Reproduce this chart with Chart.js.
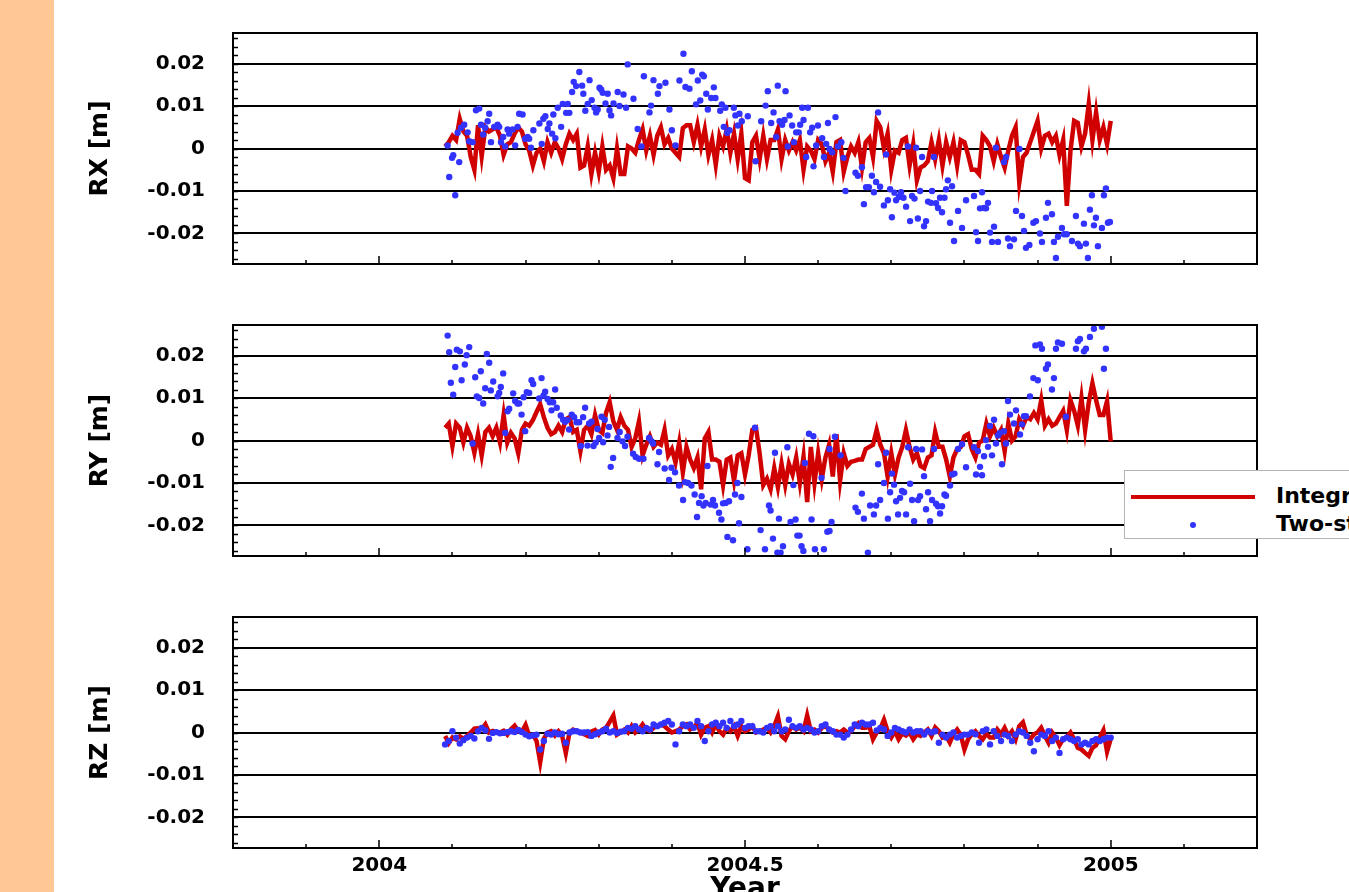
<!DOCTYPE html>
<html>
<head>
<meta charset="utf-8">
<title>RX / RY / RZ</title>
<script src="https://cdn.jsdelivr.net/npm/chart.js@4.4.1/dist/chart.umd.min.js"></script>
<style>
  html, body { margin: 0; padding: 0; background: #fff; }
  body { width: 1349px; height: 892px; overflow: hidden; position: relative; font-family: 'DejaVu Sans', sans-serif; }
  #strip { position: absolute; left: 0; top: 0; width: 54px; height: 892px; background: #fec896; }
  canvas { position: absolute; left: 53px; }
  #legend { position: absolute; left: 1124px; top: 470px; width: 300px; height: 67px; background: #fff; border: 1px solid #b4b4b4; z-index: 5; }
  #legend .line { position: absolute; left: 6px; top: 24px; width: 124px; height: 4px; background: #d00000; }
  #legend .dot { position: absolute; left: 65px; top: 51px; width: 6px; height: 6px; border-radius: 50%; background: #3333ff; }
  #legend .txt { position: absolute; left: 151px; font-weight: bold; font-size: 22px; line-height: 24px; white-space: nowrap; color: #000; }
</style>
</head>
<body>
<div id="strip"></div>
<canvas id="rxChart" width="1208" height="239" style="top:29px"></canvas>
<canvas id="ryChart" width="1208" height="239" style="top:321px"></canvas>
<canvas id="rzChart" width="1208" height="294" style="top:613px"></canvas>
<div id="legend">
  <div class="line"></div>
  <div class="txt" style="top:13px">Integrated approach</div>
  <div class="dot"></div>
  <div class="txt" style="top:41px">Two-step approach</div>
</div>
<script>
// axes
const yearTicks = [2004, 2004.5, 2005];
const metreTicks = [-0.02, -0.01, 0, 0.01, 0.02];

// integrated solution: one value every 0.005 yr from 2004.09 to 2005.00 (mm)
const integratedEpochs = [];
for (let k = 0; k <= 182; k++) integratedEpochs.push(2004.09 + k * 0.005);

const rxIntegrated = [
  0.5, 1.5, 3, 2, 7, 4, 3, -2, -5, 5.5,
  -1.8, 5, 4, 4.5, 5, 3, -1.5, 1, 1.5, 3.5,
  5, 4, 1, -0.5, -4, -1, 0, -3, 1.5, -1,
  1.5, 0, -2.5, 1, 3.5, 2, 3.5, -4.5, -4, 0.5,
  -6, -1, -5.5, 0.5, -5, -4, -7, 0, -6, -6,
  0.5, 0, -1, 2, 4.5, -0.5, 3, -1.5, 3, 5,
  1, 2.5, 0, -1, -2, 4.8, 5.5, 5.5, 1.5, 5.5,
  0.5, 4.5, -1.5, 2, -3.8, 3, 0.5, 4.5, -1, 3.5,
  -2.5, 3.5, -7, -7.5, 1.5, 3, -2.5, 3, -2.5, 2,
  2, 4.5, -2.5, 2, -0.5, 1.5, -0.5, 2, -5, 0.5,
  -0.5, -2.5, 2, 1, -3, -1, -5.5, 1.5, 2, -5.5,
  -2, 0.5, -1, 1.5, -4.5, 1.5, 2.5, -2, 6.5, 5,
  0, 3.5, -5, -0.5, -1, 2, 2.5, -4, 1, -7.5,
  -4.5, -4, -3, 1.5, -2.5, 2, -4, 1.5, -2, 1.5,
  -4, 2, 1.5, -1.5, -5, -5, -6, 3, 2, 0.5,
  -3, 1, -2, -4.5, -0.5, 3, 5, -8, -2, -1,
  1.5, 4, 6.5, 0, 3, 3.5, 1.5, 3, -1.5, 2,
  -13.5, -0.5, 6.5, 6, 0.5, 3.5, 10.5, 2, 8.5, 2,
  5, 1, 6.5
];

const ryIntegrated = [
  3, 4, -1.3, 4, 3, -0.5, 3, 1, -2.9, 1.5,
  -3.5, 2, 3, 1, 3, -0.5, 6, -0.5, 1.8, 0.5,
  -3, 2.5, 4, 3.5, 4.8, 6.7, 8.5, 5.5, 3, 1.5,
  2, 3.5, 2, 5, 5.5, 2, 2.5, -2.5, 2.5, 3.5,
  1.5, 6, 2.5, 1.8, 6.5, 9, 4.5, 2.5, 5.5, 3.5,
  2.5, -1.5, 0.5, 4.5, -3.5, -1, 1, -1.5, -0.5, -1,
  2.5, -3.5, -2, -5.2, -0.5, -7.5, -1.5, -4.5, -6.5, -4,
  -11.5, 0.5, 2, -4.5, -4.5, -5, -10.5, -4.5, -4, -9.5,
  -3.5, -3, -8, -3.5, 2.5, 3, -3, -10.5, -9, -11.5,
  -6.5, -11, -5.5, -10.5, -5.5, -8, -4, -10, -3.8, -14.5,
  -1.5, -10, -3, -9, -4, -1, -8.5, 1.5, -9.5, -3,
  -6, -5, -4.8, -4.5, -4.5, -2, -1.5, -1, 2.5, -1,
  -3, -8.5, -3, -8, -4, -1.5, 2.5, -1.5, -4.5, -3,
  -6, -6.5, -4, -3.5, 2, -1.5, -1.5, -4.5, -8.5, -4,
  -2, -1.5, 1, 1.5, -2, -4, -0.5, 0, 4, 1,
  3, 1, 2.5, -2.5, 4, 0, 1, 5, 3.5, 5.5,
  5, 6.5, 5, 9.5, 3.5, 5, 3.5, 4, 5.5, 7,
  2.5, 9.5, 7, 3.5, 10, 2.5, 9, 13.5, 9.5, 6,
  6, 9.3, -0.2
];

const rzIntegrated = [
  -0.8, -2.5, -1.2, -1.6, -0.9, -1.5, -0.8, 0, 0.9, 1,
  0.8, 1.9, 0, 0.4, 0.1, 0, 0.4, -0.5, 0.8, 1.6,
  0.3, 0.2, 1.8, -0.8, -0.5, -2, -7, -1.5, 0, 0.3,
  -0.7, 0.3, -0.8, -4.8, 0, 0.7, 0.3, 0, -0.4, -0.8,
  0.2, 0.6, -0.5, 0.7, 1.1, 2.5, 4, -0.5, 0, 0.7,
  0, 1.5, 0, 0.7, 1.9, 0.7, 0.3, 1.1, 1.5, 1.9,
  1.5, 0.7, 0, 0.3, 0.7, 1.5, 1.9, 0.7, 1.1, 2.3,
  -0.5, 1.1, 1.5, 0, 1.9, 0.3, -0.5, 1.1, 0.3, 1.5,
  -0.8, 1.5, 0.3, 0.7, 1.5, 0, 0.3, 0.7, 1.1, 0,
  1.5, 3.8, -0.8, -1.6, 0.3, 1.5, 0.7, 1.1, 0.3, 4,
  0.3, 0.7, 0, 1.1, 1.5, 0.7, 0, 0.3, 0, 0.7,
  0, 0.3, 1.5, 2.2, 1.1, 1.1, 1.5, -1.6, 0, 0.9,
  3, 0.3, -1.2, 0.3, -1.6, -0.2, -0.7, 0, -1.6, -0.4,
  -0.8, 0, 0.7, -0.8, 1.2, 0.3, -1.2, -0.8, -2.4, -0.4,
  0.7, -0.6, -4, -1.6, -0.4, 0.3, -0.8, -1.6, -0.3, -1.2,
  -1.2, 0.7, -0.4, 1.1, -0.8, 0.3, -1.6, 1.5, 2.4, -0.5,
  -1.6, -0.4, 0, 1.1, -0.8, -2.4, 0, -1.2, -3, -1.5,
  -1, 0, -1.6, -3.6, -4, -4.8, -5.5, -3.6, -3, -1.2,
  0.5, -4.5, -1.5
];

// two-step solution (day of year 2004, mm)
const rxTwoStepDay = [
  34.2, 35.0, 36.4, 37.0, 38.0, 39.2, 40.0, 40.9, 42.5, 44.2, 45.0, 46.7, 48.4, 50.0, 50.9, 52.0, 53.0, 54.2, 55.0, 55.9,
  57.5, 59.2, 60.0, 60.9, 62.0, 63.0, 64.2, 65.0, 66.7, 68.0, 69.2, 70.0, 71.7, 73.0, 74.2, 75.0, 75.9, 77.1, 80.1, 81.3,
  82.1, 83.1, 84.3, 85.1, 86.5, 87.1, 88.1, 89.3, 91.0, 91.8, 93.5, 94.3, 95.1, 96.5, 97.3, 98.5, 100.1, 101.5, 102.1, 103.1,
  104.3, 105.2, 106.3, 107.7, 108.5, 109.3, 110.2, 111.0, 111.8, 113.2, 114.3, 115.2, 116.0, 117.2, 119.3, 120.2, 122.2, 123.5, 124.3, 127.2,
  129.3, 131.2, 132.4, 135.2, 136.0, 137.2, 139.4, 140.2, 143.2, 145.2, 146.4, 148.2, 150.2, 152.2, 153.2, 155.2, 156.4, 158.5, 159.4, 160.6,
  161.6, 162.4, 163.6, 164.4, 166.1, 167.4, 168.2, 170.6, 171.4, 172.4, 173.2, 174.1, 175.2, 177.4, 178.2, 179.4, 180.2, 181.4, 184.4, 188.3,
  191.1, 193.3, 194.4, 196.1, 197.3, 198.6, 199.4, 200.3, 201.6, 202.8, 203.3, 204.4, 205.3, 206.6, 207.5, 208.6, 209.9, 210.6, 211.6, 212.3,
  213.6, 214.5, 215.6, 216.6, 217.3, 218.6, 219.5, 221.6, 222.5, 223.6, 224.5, 225.3, 226.6, 228.3, 229.5, 231.2, 232.3, 233.3, 238.3, 239.5,
  241.5, 242.5, 243.6, 245.0, 246.5, 247.5, 248.6, 249.6, 250.6, 252.5, 253.6, 254.5, 255.6, 256.5, 257.8, 258.6, 260.0, 261.1, 262.3, 263.6,
  264.6, 265.6, 266.6, 267.8, 268.6, 269.5, 270.6, 271.6, 272.6, 273.6, 274.6, 276.1, 276.6, 277.5, 278.6, 279.6, 280.6, 281.6, 282.8, 283.6,
  284.5, 285.6, 286.6, 287.6, 289.6, 291.6, 293.6, 297.6, 298.6, 299.6, 300.6, 301.6, 302.6, 303.6, 304.6, 305.6, 306.6, 307.6, 308.6, 309.6,
  312.6, 313.6, 314.6, 315.6, 317.6, 318.6, 320.3, 321.6, 322.6, 323.6, 325.3, 327.3, 328.6, 330.6, 331.6, 333.6, 334.6, 336.6, 337.6, 338.6,
  339.6, 341.6, 342.6, 344.0, 346.6, 348.6, 349.6, 350.6, 352.6, 353.6, 354.6, 355.6, 356.6, 357.6, 358.6, 359.6, 361.6, 362.6, 363.6, 364.6,
  365.6
];
const rxTwoStep = [
  0.7, -6.7, -2.2, -1.6, -11.0, 3.7, -3.2, 4.9, 5.6, 3.8, 1.7, 1.5, 9.0, 9.4, 5.6, 3.3, 4.9, 6.4, 8.2, 1.5,
  5.1, 5.6, 5.1, 1.5, 2.7, 0.5, 4.5, 3.5, 4.5, 0.7, 5.1, 8.2, 8.0, 2.3, 2.7, 2.3, 0.2, 4.3, 5.9, 1.1,
  7.0, 7.6, 4.6, 5.9, 3.5, 8.0, 2.4, 9.6, 5.1, 10.5, 8.4, 10.5, 8.4, 13.3, 15.7, 14.7, 18.0, 14.8, 12.9, 8.9,
  10.5, 16.1, 11.4, 9.6, 8.5, 9.2, 14.3, 13.9, 13.1, 10.6, 12.9, 9.0, 7.8, 10.6, 13.3, 10.0, 12.7, 9.6, 19.8, 11.7,
  4.6, 0.5, 17.0, 8.5, 10.1, 16.1, 12.9, 14.7, 15.5, 9.2, 4.3, 0.7, 16.0, 22.3, 14.5, 14.1, 18.2, 10.4, 16.0, 11.3,
  17.4, 17.0, 12.9, 9.2, 11.9, 14.4, 11.9, 8.9, 10.4, 5.1, 9.6, 3.7, 4.3, 9.6, 7.8, 5.4, 8.2, 6.4, 7.6, -3.0,
  6.4, 10.1, 13.5, 6.0, 8.5, 2.7, 14.8, 6.4, 5.6, 6.7, 13.5, 0.5, 7.8, 5.4, 1.5, 3.8, 3.8, 5.6, 9.6, 6.7,
  -2.0, 9.6, 3.8, 4.9, -4.2, 0.7, 5.4, 2.4, -2.0, 1.1, 6.0, -0.1, -0.9, 7.4, 0.5, 1.5, -2.2, -10.0, -5.7, -6.4,
  -4.4, -13.1, -9.1, -9.1, -6.4, -10.3, -7.9, 8.5, -9.0, -13.4, -1.4, -12.2, -9.6, -16.2, -10.4, -12.2, -11.4, -10.3, -11.6, -13.7,
  0.5, -17.1, -11.2, -11.8, 0.2, -16.5, -10.0, -2.0, -18.3, -17.1, -12.5, -12.8, -10.0, -2.0, -12.9, -14.0, -11.6, -15.0, -11.6, -9.6,
  -7.5, -17.5, -8.9, -21.8, -14.7, -18.7, -12.2, -11.2, -19.7, -21.8, -14.1, -10.3, -14.0, -14.1, -12.8, -19.8, -22.0, -18.4, 0.2, -22.0,
  -3.2, -2.0, -21.2, -23.0, -21.4, -14.7, -0.1, -15.9, -19.4, -23.4, -22.7, -17.5, -17.1, -20.0, -22.0, -16.3, -12.8, -15.5, -22.0, -25.8,
  -20.8, -18.7, -20.2, -20.2, -21.8, -15.9, -22.4, -23.0, -17.7, -22.4, -25.8, -14.4, -11.0, -18.1, -16.3, -23.0, -18.7, -11.0, -9.4, -17.5,
  -17.3
];

const ryTwoStepDay = [
  34.2, 35.0, 35.8, 37.0, 38.0, 38.8, 40.3, 41.2, 42.8, 43.7, 45.0, 46.7, 48.0, 48.8, 50.0, 50.8, 52.0, 53.0, 53.8, 55.0,
  55.8, 57.0, 59.2, 60.0, 60.8, 62.0, 63.0, 64.2, 65.0, 67.0, 68.0, 69.2, 70.0, 71.2, 72.2, 73.0, 73.8, 75.0, 76.2, 77.0,
  80.0, 81.2, 82.2, 83.0, 84.2, 85.3, 86.2, 87.0, 88.0, 88.8, 90.8, 92.0, 93.0, 94.2, 95.0, 96.3, 97.5, 98.7, 100.0, 100.8,
  102.0, 103.0, 104.2, 105.0, 106.2, 107.2, 108.3, 109.2, 110.0, 111.2, 112.0, 112.8, 114.2, 115.0, 115.8, 117.0, 119.2, 120.3, 121.7, 123.0,
  124.2, 127.0, 128.3, 130.0, 132.2, 135.0, 136.3, 137.0, 139.2, 140.0, 142.8, 145.0, 146.2, 148.0, 150.0, 152.0, 153.0, 154.5, 156.2, 157.8,
  159.0, 160.0, 161.3, 162.2, 163.3, 164.2, 165.8, 167.0, 168.0, 170.0, 171.2, 172.0, 173.3, 174.2, 175.0, 177.0, 178.0, 179.2, 180.0, 181.2,
  184.2, 188.0, 190.8, 193.0, 195.0, 195.8, 197.0, 198.0, 199.2, 200.0, 200.8, 202.0, 204.2, 205.8, 207.2, 208.3, 209.2, 210.3, 211.3, 212.2,
  213.0, 215.0, 216.3, 217.2, 218.0, 221.3, 222.5, 224.2, 225.3, 225.3, 226.3, 228.0, 230.8, 238.3, 239.5, 241.5, 242.5, 244.5, 245.6, 247.5,
  248.6, 249.6, 250.6, 252.5, 253.6, 254.5, 255.6, 256.5, 257.6, 258.6, 259.6, 260.6, 261.6, 262.6, 263.6, 264.6, 265.6, 266.6, 267.6, 268.6,
  269.6, 270.6, 271.6, 272.6, 273.6, 274.6, 275.6, 276.6, 277.6, 278.6, 279.6, 280.6, 281.6, 282.8, 283.6, 285.6, 286.6, 287.8, 289.6, 291.6,
  293.6, 297.6, 298.6, 299.6, 300.6, 301.6, 302.6, 303.6, 304.6, 305.6, 306.6, 307.6, 308.6, 309.6, 310.6, 311.6, 312.6, 313.6, 314.6, 315.6,
  317.6, 318.6, 320.6, 321.6, 322.6, 323.6, 325.6, 327.3, 328.3, 329.5, 330.6, 331.6, 333.6, 334.6, 336.6, 337.6, 338.6, 339.6, 341.6, 343.6,
  348.6, 349.6, 350.6, 352.6, 353.6, 355.6, 357.6, 361.6, 362.6, 363.6
];
const ryTwoStep = [
  24.7, 20.8, 13.6, 10.8, 17.3, 21.4, 21.0, 14.2, 17.9, 20.1, 22.0, -0.7, 14.9, 10.4, 10.0, 16.3, 8.7, 12.3, 20.4, 18.3,
  11.8, 13.9, 10.4, 11.2, 12.6, 15.8, 1.8, 6.9, 7.5, 11.1, 9.3, 8.7, 8.7, 6.1, 10.2, 2.2, 11.4, 11.2, 14.2, 13.3,
  9.9, 14.7, 10.6, 11.5, 9.8, 9.0, 7.1, 9.0, 12.0, 7.7, 5.9, 4.9, 4.4, 4.8, 2.6, 6.1, 5.5, 4.3, 4.3, -1.3,
  5.5, 7.7, -1.2, 4.0, 4.4, -1.3, -0.5, 2.7, 0.6, 5.6, -0.4, 4.9, 1.2, 3.2, -6.2, -4.1, 0.6, 2.0, -0.2, -1.3,
  0.9, -3.1, -3.9, -4.3, -4.3, 0.6, -0.2, -0.7, -5.6, -2.7, -6.6, -9.3, -6.4, -7.5, -10.6, -14.0, -9.8, -10.0, -10.6, -12.7,
  -18.0, -14.7, -13.1, -15.3, -14.7, -6.0, -15.1, -14.0, -15.3, -17.0, -18.6, -14.8, -14.7, -22.7, -14.3, -23.5, -12.7, -10.0, -19.5, -13.3,
  -25.6, 3.0, -21.1, -25.6, -15.3, -16.5, -23.1, -2.9, -26.4, -18.4, -26.4, -24.9, -1.6, -19.2, -10.5, -18.6, -22.4, -22.4, -24.9, -26.0,
  -5.3, 1.6, -18.6, 1.0, -25.6, -8.8, -25.6, -21.5, -2.0, -21.3, -19.2, 0.9, -3.5, -15.8, -16.8, -12.5, -18.4, -26.4, -15.3, -17.4,
  -15.3, -5.6, -14.0, -10.0, -2.9, -18.4, -12.2, -7.8, -10.4, -14.3, -17.4, -13.5, -11.9, -12.2, -17.4, -1.6, -10.2, -14.0, -19.0, -2.0,
  -14.0, -13.1, -2.1, -8.4, -16.2, -12.2, -19.0, -14.0, -2.0, -14.9, -15.5, -17.2, -15.5, -12.7, -13.0, -10.6, -8.0, -7.8, -2.0, -0.9,
  -6.3, -1.6, -8.0, -2.5, -6.2, -8.2, -3.7, 0.1, -1.5, 3.4, -3.5, 4.9, -0.7, 1.2, 1.8, -5.6, 2.2, -0.7, 9.3, 6.1,
  4.0, 7.1, 1.4, 3.8, 5.7, 5.7, 10.4, 14.7, 22.4, 14.2, 22.6, 21.6, 16.9, 17.9, 12.0, 14.7, 21.6, 23.1, 22.8, 5.6,
  21.6, 23.4, 23.9, 21.0, 21.6, 24.4, 26.3, 26.8, 16.9, 21.6
];

// RZ two-step shares the integrated epochs
const rzTwoStep = [
  -2.8, -2, 0.3, -1.2, -2.6, -1.8, -1.2, -0.8, -1.4, 0.3,
  1.1, 0.5, -1.5, -0.1, 0.1, -0.2, -0.1, 0.1, 0.3, 0.1,
  0.6, 0.1, -0.5, -0.9, -0.7, -0.5, -4, -2, -0.3, -0.5,
  0, -0.4, -0.3, -2.4, 0, 0.3, 0.3, 0, 0, 0.1,
  -0.8, -0.4, 0, 0.3, 0.9, 0, 0.3, -0.1, 0.2, 0.3,
  1.1, 0.9, 1.5, 0.7, 0.3, 1.1, 0.7, 1.9, 1.5, 1.9,
  2.3, 2.7, 1.9, -2.8, 0.3, 1.9, 1.5, 1.9, 1.1, 2.7,
  1.5, -2, 0.3, 1.9, 2.3, 1.5, 2.3, 1.1, 2.7, 1.5,
  1.9, 2.7, 1.1, 1.5, 1.5, 0.3, 0.3, 0, 1.1, 1.5,
  0.3, 1.5, 0.3, 0.7, 3, 1.5, 1.1, 1.5, 0.7, 1.1,
  0.7, 0, 0.3, 1.5, 1.9, 0.7, 0.3, -0.5, -0.5, -1.2,
  -0.5, 0.7, 1.9, 1.5, 2.3, 1.9, 1.9, 2.3, 0.5, 1.1,
  0.7, -0.8, 0, 1.1, 0.7, 0.3, 0, 0.7, 0, 0.3,
  0.3, -0.5, 0.3, 0, 0.3, -2.4, -0.5, -1.2, -0.5, 0,
  -1.2, -0.8, -0.5, -0.5, 0, -0.4, -2.4, 0.3, 0.7, -2.8,
  0.3, -0.8, -2, -0.5, -0.8, -2, -0.5, 0.3, 0, -0.8,
  -2.4, -4.4, -1.6, -0.5, -0.8, 0.3, -2, -1.2, -4.8, -1.6,
  -1.2, -1.6, -2, -1.6, -2.8, -2.4, -2.8, -2, -1.6, -2,
  -1.6, -1.2, -1.2
];

Chart.defaults.font.family = "'DejaVu Sans', sans-serif";
Chart.defaults.color = '#000';

// outer frame plus the small inward ticks
const frameTicks = {
  id: 'frameTicks',
  afterDraw(chart) {
    const { ctx, chartArea: a, scales: { x, y } } = chart;
    ctx.save();
    ctx.strokeStyle = '#000';
    ctx.lineWidth = 1.5;
    ctx.beginPath();
    for (let k = 39; k <= 51; k++) {
      const px = Math.round(x.getPixelForValue(k / 10 + 2000));
      const len = (k === 40 || k === 50) ? 8 : 4;
      ctx.moveTo(px, a.bottom);
      ctx.lineTo(px, a.bottom - len);
    }
    const mid = x.getPixelForValue(2004.5);
    ctx.moveTo(mid, a.bottom);
    ctx.lineTo(mid, a.bottom - 8);
    for (let k = -13; k <= 13; k++) {
      const py = Math.round(y.getPixelForValue(k * 0.002)) + 0.5;
      ctx.moveTo(a.left, py);
      ctx.lineTo(a.left + 5, py);
    }
    ctx.stroke();
    ctx.lineWidth = 2;
    ctx.strokeRect(a.left, a.top, a.right - a.left, a.bottom - a.top);
    ctx.restore();
  }
};

function buildPanel(canvasId, axisTitle, integratedMm, twoStepX, twoStepMm, isBottom) {
  const integrated = integratedMm.map((v, i) => ({ x: integratedEpochs[i], y: v / 1000 }));
  const twoStep = twoStepMm.map((v, i) => ({ x: twoStepX[i], y: v / 1000 }));

  new Chart(document.getElementById(canvasId), {
    type: 'scatter',
    data: {
      datasets: [
        {
          label: 'Two-step approach',
          data: twoStep,
          pointRadius: 3.2,
          pointBackgroundColor: '#3333ff',
          pointBorderWidth: 0,
          order: 0
        },
        {
          label: 'Integrated approach',
          data: integrated,
          showLine: true,
          borderColor: '#d00000',
          borderWidth: 4.5,
          borderJoinStyle: 'miter',
          pointRadius: 0,
          order: 1
        }
      ]
    },
    options: {
      responsive: false,
      animation: false,
      events: [],
      layout: { padding: { top: 4, right: 4, bottom: isBottom ? 0 : 4, left: 0 } },
      plugins: { legend: { display: false }, tooltip: { enabled: false } },
      scales: {
        x: {
          type: 'linear',
          min: 2003.8,
          max: 2005.2,
          display: isBottom,
          grid: { display: false, drawTicks: false },
          border: { display: false },
          afterBuildTicks: s => { s.ticks = yearTicks.map(v => ({ value: v })); },
          afterFit: s => {
            if (isBottom) { s.height = 59; s.paddingLeft = 0; s.paddingRight = 0; }
          },
          ticks: {
            padding: 6,
            maxRotation: 0,
            font: { size: 20, weight: 'bold' },
            callback: v => String(v)
          },
          title: {
            display: true,
            text: 'Year',
            font: { size: 28, weight: 'bold' },
            padding: { top: 0, bottom: 0 }
          }
        },
        y: {
          type: 'linear',
          min: -0.0272,
          max: 0.0272,
          grid: { color: '#000', lineWidth: 2, drawTicks: false },
          border: { display: false },
          afterBuildTicks: s => { s.ticks = metreTicks.map(v => ({ value: v })); },
          afterFit: s => { s.width = 180; s.paddingTop = 0; s.paddingBottom = 0; },
          ticks: {
            padding: 28,
            font: { size: 20, weight: 'bold' },
            callback: v => (Math.abs(v) < 1e-9 ? '0' : v.toFixed(2))
          },
          title: {
            display: true,
            text: axisTitle,
            font: { size: 25, weight: 'bold' },
            padding: { top: 32, bottom: 0 }
          }
        }
      }
    },
    plugins: [frameTicks]
  });
}

const rxTwoStepYear = rxTwoStepDay.map(d => 2004 + d / 366);
const ryTwoStepYear = ryTwoStepDay.map(d => 2004 + d / 366);

buildPanel('rxChart', 'RX [m]', rxIntegrated, rxTwoStepYear, rxTwoStep, false);
buildPanel('ryChart', 'RY [m]', ryIntegrated, ryTwoStepYear, ryTwoStep, false);
buildPanel('rzChart', 'RZ [m]', rzIntegrated, integratedEpochs, rzTwoStep, true);
</script>
</body>
</html>
